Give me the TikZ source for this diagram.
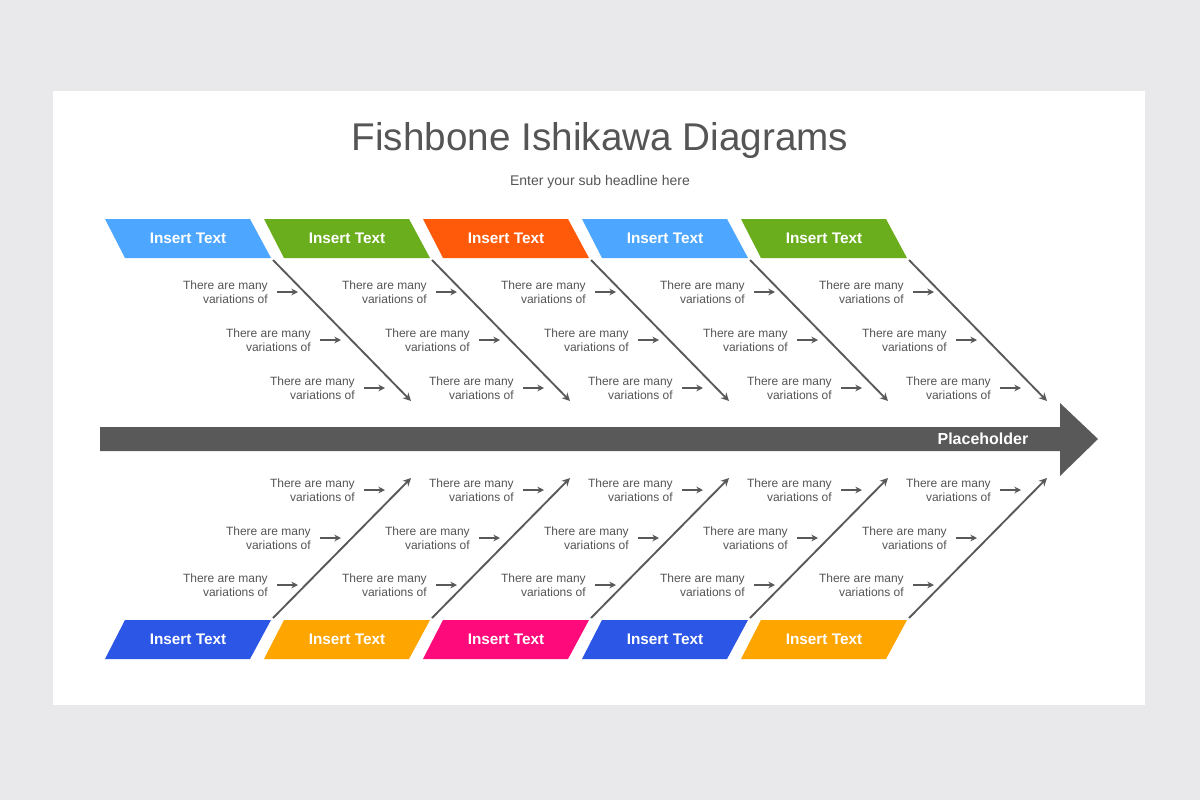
\documentclass[tikz,border=0pt]{standalone}
\usepackage{fontspec}
\setmainfont{Liberation Sans}
\usetikzlibrary{arrows.meta}
\definecolor{bg}{HTML}{E9E8EA}
\definecolor{dk}{HTML}{595959}
\definecolor{tx}{HTML}{555555}
\definecolor{cA}{HTML}{4DA6FF}
\definecolor{cB}{HTML}{6AAE1D}
\definecolor{cC}{HTML}{FF5A0A}
\definecolor{cD}{HTML}{2B56E6}
\definecolor{cE}{HTML}{FFA500}
\definecolor{cF}{HTML}{FF0A7A}
\tikzset{
  lbl/.style={font=\fontsize{11.5}{13}\selectfont\bfseries, text=white},
  small/.style={font=\fontsize{9}{10.5}\selectfont, text=tx, align=right, anchor=east, inner sep=0pt},
  sarr/.style={dk, line width=1.1pt, -{Stealth[length=5pt,width=5pt]}},
  bone/.style={dk, line width=1.4pt, -{Stealth[length=6pt,width=6pt]}}
}
\begin{document}
\begin{tikzpicture}[x=0.75pt,y=-0.75pt]
\fill[bg] (0,0) rectangle (1200,800);
\useasboundingbox (0,0) rectangle (1200,800);
\fill[white] (53,91) rectangle (1145,705);
\node[text=tx, font=\fontsize{29}{34}\selectfont] (title) at (600,140) {Fishbone Ishikawa Diagrams};
\node[text=tx, font=\fontsize{10.5}{12}\selectfont] (sub) at (600,182) {Enter your sub headline here};
% spine
\fill[dk] (100,427) -- (1060,427) -- (1060,403) -- (1098,439) -- (1060,476) -- (1060,451) -- (100,451) -- cycle;
\node[lbl, font=\fontsize{12}{14}\selectfont\bfseries, anchor=east] (ph) at (1033,439) {Placeholder};
\foreach \i/\ct/\cb in {0/cA/cD,1/cB/cE,2/cC/cF,3/cA/cD,4/cB/cE}{
  \pgfmathsetmacro{\dx}{159*\i}
  \begin{scope}[xshift=\dx*0.75pt]
  % top
  \fill[\ct] (105,219) -- (250,219) -- (271,258) -- (125,258) -- cycle;
  \node[lbl] (t\i) at (188,238) {Insert Text};
  \coordinate (ts\i) at (273,260);
  \coordinate (te\i) at (411,401);
  \draw[bone] (ts\i) -- (te\i);
  % bottom
  \fill[\cb] (125,620) -- (271,620) -- (250,659) -- (105,659) -- cycle;
  \node[lbl] (b\i) at (188,639) {Insert Text};
  \coordinate (bs\i) at (273,618);
  \coordinate (be\i) at (411,478);
  \draw[bone] (bs\i) -- (be\i);
  \foreach \y/\xa/\xt [count=\k] in {292/277/268,340/320/311,388/364/355}{
    \node[small] (tt\i\k) at (\xt,\y) {There are many\\variations of};
    \coordinate (ta\i\k) at (\xa,\y);
    \coordinate (tb\i\k) at (\xa+21,\y);
    \draw[sarr] (ta\i\k) -- (tb\i\k);
  }
  \foreach \y/\xa/\xt [count=\k] in {490/364/355,538/320/311,585/277/268}{
    \node[small] (bt\i\k) at (\xt,\y) {There are many\\variations of};
    \coordinate (ba\i\k) at (\xa,\y);
    \coordinate (bb\i\k) at (\xa+21,\y);
    \draw[sarr] (ba\i\k) -- (bb\i\k);
  }
  \end{scope}
}
\end{tikzpicture}
\end{document}
